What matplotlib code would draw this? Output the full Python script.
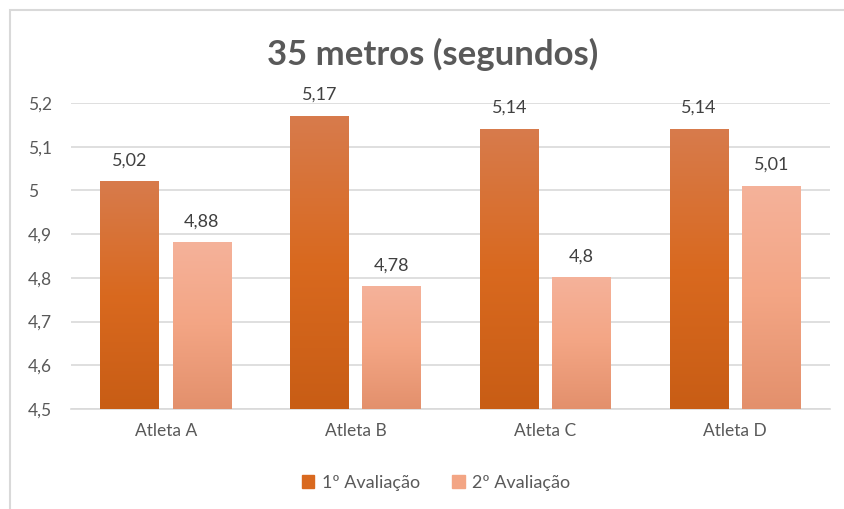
import numpy as np
import matplotlib.pyplot as plt
from matplotlib.colors import LinearSegmentedColormap
from matplotlib.patches import Rectangle

atletas = ['Atleta A', 'Atleta B', 'Atleta C', 'Atleta D']
aval1 = [5.02, 5.17, 5.14, 5.14]
aval2 = [4.88, 4.78, 4.80, 5.01]
series_names = ['1º Avaliação', '2º Avaliação']

plt.rcParams['font.family'] = ['Lato', 'DejaVu Sans']

fig = plt.figure(figsize=(8.44, 5.09), dpi=100)
ax = fig.add_axes([71 / 844, 1 - 409 / 509, 759 / 844, 306 / 509])

cmap1 = LinearSegmentedColormap.from_list('c1', ['#D77B4C', '#D9691F', '#C85D15'])
cmap2 = LinearSegmentedColormap.from_list('c2', ['#F5B29A', '#F3A584', '#E3906C'])
grad = np.linspace(0, 1, 256).reshape(-1, 1)

x = np.arange(len(atletas))
w = 0.31
off = 0.19
bars1 = ax.bar(x - off, aval1, w, bottom=0, color='#D9691F', zorder=2)
bars2 = ax.bar(x + off, aval2, w, bottom=0, color='#F3A584', zorder=2)

# gradient fill over each bar
for bars, cm in [(bars1, cmap1), (bars2, cmap2)]:
    for b in bars:
        x0 = b.get_x()
        x1 = x0 + b.get_width()
        top = b.get_height()
        ax.imshow(grad, cmap=cm, aspect='auto', extent=(x0, x1, 4.5, top),
                  origin='upper', zorder=3)
        b.set_visible(False)
ax.set_xlim(-0.5, 3.5)
ax.set_ylim(4.5, 5.2)

for vals, dx in [(aval1, -off), (aval2, off)]:
    for xi, v in zip(x, vals):
        ax.text(xi + dx, v + 0.03, f'{v:g}'.replace('.', ','), ha='center', va='bottom',
                fontsize=13, color='#404040')

yt = [4.5, 4.6, 4.7, 4.8, 4.9, 5.0, 5.1, 5.2]
ax.set_yticks(yt)
ax.set_yticklabels([f'{v:g}'.replace('.', ',') for v in yt], fontsize=12.5, color='#595959')
ax.set_xticks(x)
ax.set_xticklabels(atletas, fontsize=12.5, color='#595959')
ax.tick_params(length=0, pad=10)
ax.tick_params(axis='y', pad=31)
for lbl in ax.get_yticklabels():
    lbl.set_horizontalalignment('left')
ax.grid(axis='y', color='#D9D9D9', linewidth=1.2, zorder=0)
for s in ['top', 'right', 'left']:
    ax.spines[s].set_visible(False)
ax.spines['bottom'].set_color('#D9D9D9')
ax.spines['bottom'].set_linewidth(1.2)

fig.text(433 / 844, 1 - 54 / 509, '35 metros (segundos)', ha='center', va='center',
         fontsize=25, fontweight='bold', color='#595959')

handles = [Rectangle((0, 0), 1, 1, color='#D9691F'), Rectangle((0, 0), 1, 1, color='#F3A584')]
fig.legend(handles, series_names, loc='center', bbox_to_anchor=(436 / 844, 1 - 483 / 509),
           ncol=2, frameon=False, fontsize=13, handlelength=0.7, handleheight=0.7,
           handletextpad=0.4, columnspacing=1.8, labelcolor='#595959')

fig.patches.append(Rectangle((10 / 844, -0.1), 1.1, 1 - 10 / 509 + 0.1, transform=fig.transFigure,
                             fill=False, edgecolor='#D9D9D9', linewidth=1.5))

fig.savefig('out.png', dpi=100)
